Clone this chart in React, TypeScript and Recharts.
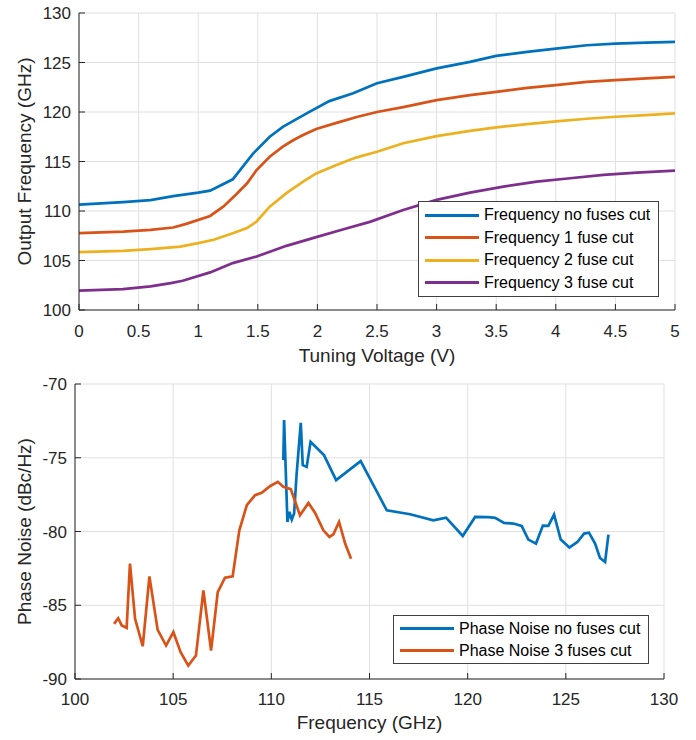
import { LineChart, Line, XAxis, YAxis, CartesianGrid, Legend, Label } from 'recharts'

// tuning curves: voltage (V) vs output frequency (GHz)
const vNoFuse = [0, 0.37, 0.6, 0.79, 1.0, 1.1, 1.29, 1.46, 1.6, 1.71, 1.91, 2.1, 2.3, 2.5, 2.72, 3.0, 3.28, 3.5, 3.76, 4.0, 4.26, 4.5, 4.76, 5.0]
const fNoFuse = [110.64, 110.89, 111.1, 111.5, 111.85, 112.06, 113.2, 115.8, 117.5, 118.5, 119.86, 121.1, 121.9, 122.9, 123.55, 124.4, 125.06, 125.67, 126.07, 126.4, 126.74, 126.9, 127.0, 127.08]

const v1Fuse = [0, 0.37, 0.6, 0.79, 0.9, 1.1, 1.21, 1.32, 1.41, 1.49, 1.6, 1.71, 1.8, 1.88, 1.99, 2.16, 2.33, 2.5, 2.72, 3.0, 3.28, 3.5, 3.76, 4.0, 4.26, 4.5, 4.76, 5.0]
const f1Fuse = [107.76, 107.92, 108.09, 108.33, 108.7, 109.5, 110.44, 111.69, 112.8, 114.14, 115.48, 116.5, 117.17, 117.67, 118.28, 118.9, 119.5, 120.0, 120.5, 121.2, 121.7, 122.04, 122.44, 122.71, 123.04, 123.21, 123.39, 123.55]

const v2Fuse = [0, 0.37, 0.6, 0.85, 1.0, 1.13, 1.29, 1.41, 1.49, 1.6, 1.74, 1.88, 1.99, 2.16, 2.33, 2.5, 2.72, 3.0, 3.28, 3.5, 3.76, 4.0, 4.26, 4.5, 4.76, 5.0]
const f2Fuse = [105.85, 105.98, 106.15, 106.4, 106.75, 107.09, 107.76, 108.27, 108.94, 110.44, 111.8, 112.96, 113.8, 114.65, 115.42, 115.99, 116.84, 117.57, 118.1, 118.45, 118.78, 119.05, 119.32, 119.52, 119.69, 119.86]

const v3Fuse = [0, 0.37, 0.6, 0.77, 0.87, 1.1, 1.29, 1.49, 1.74, 1.99, 2.22, 2.44, 2.72, 3.0, 3.28, 3.56, 3.84, 4.12, 4.4, 4.68, 5.0]
const f3Fuse = [101.95, 102.1, 102.38, 102.72, 102.95, 103.8, 104.74, 105.4, 106.48, 107.36, 108.16, 108.9, 110.1, 111.12, 111.85, 112.46, 112.96, 113.31, 113.64, 113.87, 114.07]

// phase noise (dBc/Hz) vs frequency (GHz)
const pnFreqNoFuse = [110.61, 110.65, 110.82, 110.92, 111.04, 111.16, 111.29, 111.5, 111.6, 111.8, 112.0, 112.68, 113.3, 114.55, 115.88, 117.07, 118.25, 118.9, 119.75, 120.38, 121.05, 121.4, 121.85, 122.33, 122.75, 123.09, 123.48, 123.83, 124.11, 124.4, 124.74, 125.18, 125.59, 125.93, 126.18, 126.49, 126.74, 127.0, 127.17]
const pnNoFuse = [-75.16, -72.45, -79.35, -78.67, -79.19, -78.78, -76.07, -72.63, -75.5, -75.62, -73.92, -74.82, -76.52, -75.23, -78.56, -78.83, -79.24, -79.06, -80.3, -79.01, -79.03, -79.08, -79.42, -79.46, -79.62, -80.55, -80.82, -79.6, -79.62, -78.85, -80.55, -81.09, -80.71, -80.14, -80.08, -80.82, -81.8, -82.07, -80.21]

const pnFreq3Fuse = [101.99, 102.2, 102.38, 102.63, 102.8, 103.06, 103.45, 103.79, 104.21, 104.64, 105.01, 105.38, 105.77, 106.16, 106.54, 106.93, 107.27, 107.64, 108.03, 108.37, 108.75, 109.17, 109.51, 109.93, 110.33, 110.61, 110.99, 111.46, 111.89, 112.23, 112.65, 112.96, 113.16, 113.45, 113.76, 114.06]
const pn3Fuse = [-86.26, -85.88, -86.37, -86.53, -82.18, -85.92, -87.78, -83.04, -86.67, -87.73, -86.82, -88.18, -89.09, -88.41, -84.0, -88.07, -84.11, -83.13, -83.04, -79.92, -78.22, -77.54, -77.38, -76.93, -76.63, -76.97, -77.13, -78.9, -78.06, -78.74, -79.92, -80.37, -80.19, -79.35, -80.82, -81.84]

const tuningNames = ['Frequency no fuses cut', 'Frequency 1 fuse cut', 'Frequency 2 fuse cut', 'Frequency 3 fuse cut']
const noiseNames = ['Phase Noise no fuses cut', 'Phase Noise 3 fuses cut']

const voltageTicks = [0, 0.5, 1, 1.5, 2, 2.5, 3, 3.5, 4, 4.5, 5]
const outFreqTicks = [100, 105, 110, 115, 120, 125, 130]
const pnFreqTicks = [100, 105, 110, 115, 120, 125, 130]
const pnTicks = [-90, -85, -80, -75, -70]

const BLUE = '#0072BD'
const ORANGE = '#D95319'
const YELLOW = '#EDB120'
const PURPLE = '#7E2F8E'
const INK = '#262626'
const FONT = '"Liberation Sans", Arial, Helvetica, sans-serif'

const zip = (xs: number[], ys: number[]) => xs.map((x, i) => ({ x, y: ys[i] }))

const tickStyle = { fontSize: 17, fill: INK, fontFamily: FONT }

const yTitle = (text: string) => (props: any) => {
  const vb = props.viewBox
  const cx = 24
  const cy = vb.y + vb.height / 2
  return (
    <text x={cx} y={cy} transform={`rotate(-90 ${cx} ${cy})`} textAnchor="middle" dominantBaseline="central"
      fontSize={19} fill={INK} fontFamily={FONT}>{text}</text>
  )
}

const xTitle = (text: string, dy: number) => (props: any) => {
  const vb = props.viewBox
  return (
    <text x={vb.x + vb.width / 2} y={vb.y + dy} textAnchor="middle" dominantBaseline="central"
      fontSize={19} fill={INK} fontFamily={FONT}>{text}</text>
  )
}

// legend keeps the plotting order (recharts sorts by name otherwise)
const legendBox = (rowH: number, order: string[]) => (props: any) => {
  const items = [...(props.payload || [])].sort((a: any, b: any) => order.indexOf(a.value) - order.indexOf(b.value))
  return (
    <div style={{ border: '1px solid #404040', background: '#fff', padding: '2px 0', fontFamily: FONT, fontSize: 16, color: '#000' }}>
      {items.map((p: any) => (
        <div key={p.value} style={{ display: 'flex', alignItems: 'center', height: rowH, whiteSpace: 'nowrap' }}>
          <span style={{ display: 'inline-block', width: 54, height: 3, background: p.color, marginLeft: 6, marginRight: 5 }} />
          <span>{p.value}</span>
        </div>
      ))}
    </div>
  )
}

export default function App() {
  return (
    <div style={{ position: 'absolute', left: 0, top: 0, width: 696, height: 740, background: '#fff' }}>
      <div style={{ position: 'absolute', left: 0, top: 0 }}>
        <LineChart width={696} height={370} margin={{ top: 13, right: 21, left: 29, bottom: 30 }}>
          <CartesianGrid stroke="#e0e0e0" />
          <XAxis dataKey="x" type="number" domain={[0, 5]} ticks={voltageTicks} stroke={INK}
            tickSize={-6} tickMargin={21} tick={tickStyle} height={30}>
            <Label content={xTitle('Tuning Voltage (V)', 45)} />
          </XAxis>
          <XAxis xAxisId="top" orientation="top" type="number" domain={[0, 5]} ticks={voltageTicks}
            stroke={INK} tickSize={-6} tick={false} height={0} />
          <YAxis type="number" domain={[100, 130]} ticks={outFreqTicks} stroke={INK}
            tickSize={-6} tickMargin={14} tick={tickStyle} width={50}>
            <Label content={yTitle('Output Frequency (GHz)')} />
          </YAxis>
          <YAxis yAxisId="right" orientation="right" type="number" domain={[100, 130]} ticks={outFreqTicks}
            stroke={INK} tickSize={-6} tick={false} width={0} />
          <Line data={zip(vNoFuse, fNoFuse)} dataKey="y" name={tuningNames[0]} stroke={BLUE} strokeWidth={2.7} dot={false} isAnimationActive={false} />
          <Line data={zip(v1Fuse, f1Fuse)} dataKey="y" name={tuningNames[1]} stroke={ORANGE} strokeWidth={2.7} dot={false} isAnimationActive={false} />
          <Line data={zip(v2Fuse, f2Fuse)} dataKey="y" name={tuningNames[2]} stroke={YELLOW} strokeWidth={2.7} dot={false} isAnimationActive={false} />
          <Line data={zip(v3Fuse, f3Fuse)} dataKey="y" name={tuningNames[3]} stroke={PURPLE} strokeWidth={2.7} dot={false} isAnimationActive={false} />
          <Legend layout="horizontal" verticalAlign="middle" align="center" content={legendBox(22.5, tuningNames)}
            wrapperStyle={{ left: 418, top: 201, width: 241, height: 'auto' }} />
        </LineChart>
      </div>
      <div style={{ position: 'absolute', left: 0, top: 370 }}>
        <LineChart width={696} height={370} margin={{ top: 14, right: 32, left: 25, bottom: 31 }}>
          <CartesianGrid stroke="#e0e0e0" />
          <XAxis dataKey="x" type="number" domain={[100, 130]} ticks={pnFreqTicks} stroke={INK}
            tickSize={-6} tickMargin={20} tick={tickStyle} height={30}>
            <Label content={xTitle('Frequency (GHz)', 43)} />
          </XAxis>
          <XAxis xAxisId="top" orientation="top" type="number" domain={[100, 130]} ticks={pnFreqTicks}
            stroke={INK} tickSize={-6} tick={false} height={0} />
          <YAxis type="number" domain={[-90, -70]} ticks={pnTicks} stroke={INK}
            tickSize={-6} tickMargin={14} tick={tickStyle} width={50}>
            <Label content={yTitle('Phase Noise (dBc/Hz)')} />
          </YAxis>
          <YAxis yAxisId="right" orientation="right" type="number" domain={[-90, -70]} ticks={pnTicks}
            stroke={INK} tickSize={-6} tick={false} width={0} />
          <Line data={zip(pnFreqNoFuse, pnNoFuse)} dataKey="y" name={noiseNames[0]} stroke={BLUE} strokeWidth={2.7} dot={false} isAnimationActive={false} />
          <Line data={zip(pnFreq3Fuse, pn3Fuse)} dataKey="y" name={noiseNames[1]} stroke={ORANGE} strokeWidth={2.7} dot={false} isAnimationActive={false} />
          <Legend layout="horizontal" verticalAlign="middle" align="center" content={legendBox(21.7, noiseNames)}
            wrapperStyle={{ left: 393, top: 245, width: 256, height: 'auto' }} />
        </LineChart>
      </div>
    </div>
  )
}
